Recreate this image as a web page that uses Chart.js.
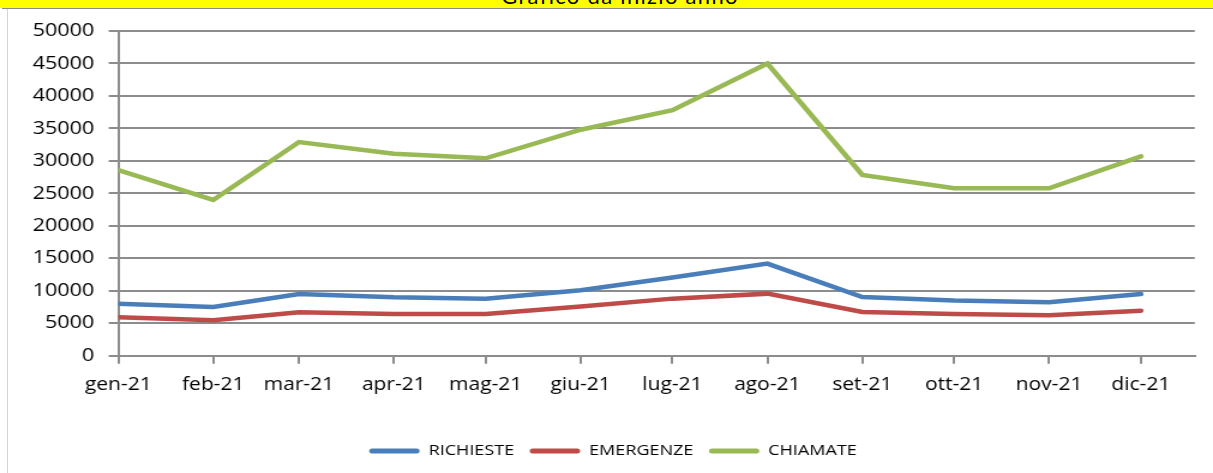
<!DOCTYPE html>
<html><head><meta charset="utf-8">
<script src="https://cdn.jsdelivr.net/npm/chart.js@4/dist/chart.umd.min.js"></script>
<style>
html,body{margin:0;padding:0;background:#fff;width:1213px;height:473px;overflow:hidden;}
#band{position:absolute;left:0;top:0;width:1213px;height:8px;background:#ffff00;overflow:hidden;}
#band span{position:absolute;left:0;width:1240px;text-align:center;top:-18px;font:22px Lato,sans-serif;letter-spacing:1.3px;color:#000;white-space:nowrap;line-height:normal;}
#topline{position:absolute;left:2px;top:8px;width:1211px;height:1px;background:#8a8a8a;}
#leftline{position:absolute;left:7px;top:9px;width:1px;height:464px;background:#d4d4d4;}
#wrap{position:absolute;left:0;top:0;width:1011px;height:473px;transform:scaleX(1.1998);transform-origin:0 0;}
</style></head>
<body>
<div id="band"><span>Grafico da inizio anno</span></div>
<div id="topline"></div>
<div id="leftline"></div>
<div id="wrap"><canvas id="c"></canvas></div>
<script>
const categories = ['gen-21','feb-21','mar-21','apr-21','mag-21','giu-21','lug-21','ago-21','set-21','ott-21','nov-21','dic-21'];
const richieste = [8000, 7500, 9500, 9000, 8800, 10100, 12050, 14200, 9050, 8500, 8250, 9500];
const emergenze = [5930, 5470, 6700, 6450, 6450, 7600, 8800, 9570, 6750, 6450, 6230, 6950];
const chiamate  = [28600, 24000, 32900, 31100, 30400, 34800, 37800, 45000, 27850, 25800, 25800, 30700];
const seriesNames = ['RICHIESTE', 'EMERGENZE', 'CHIAMATE'];
const seriesColors = ['#4a7ebb', '#be4b48', '#98b954'];

// day offset of each month start (date axis, as in the original)
const dayOffsets = categories.map((c, i) => (Date.UTC(2021, i, 1) - Date.UTC(2021, 0, 1)) / 86400000);
const toPoints = arr => arr.map((v, i) => ({x: dayOffsets[i], y: v}));

const legendShift = {
  id: 'legendShift',
  afterLayout(chart) { if (chart.legend) { chart.legend.left += 26; } }
};

function draw() {
  Chart.defaults.font.family = '"Open Sans", Lato, sans-serif';
  Chart.defaults.color = '#000';
  const gridColor = '#8c8c8c';
  const seriesData = [richieste, emergenze, chiamate];
  new Chart(document.getElementById('c'), {
    type: 'line',
    data: {
      datasets: seriesData.map((arr, i) => ({
        label: seriesNames[i],
        data: toPoints(arr),
        borderColor: seriesColors[i],
        backgroundColor: seriesColors[i],
        borderWidth: 4.5,
        pointRadius: 0,
        tension: 0,
        borderCapStyle: 'round',
        fill: false
      }))
    },
    options: {
      responsive: true,
      maintainAspectRatio: false,
      animation: false,
      layout: {padding: {left: 0, right: 15.2, top: 31, bottom: 4.5}},
      plugins: {
        tooltip: {enabled: false},
        title: {display: false},
        legend: {
          position: 'bottom',
          labels: {
            boxWidth: 42,
            boxHeight: 5,
            padding: 13,
            useBorderRadius: true,
            borderRadius: 2.5,
            font: {size: 15},
            color: '#000',
            generateLabels: chart => chart.data.datasets.map((ds, i) => ({
              text: ds.label,
              fillStyle: ds.borderColor,
              strokeStyle: ds.borderColor,
              lineWidth: 0,
              hidden: false,
              datasetIndex: i,
              borderRadius: 2.5
            }))
          }
        }
      },
      scales: {
        x: {
          type: 'linear',
          min: 0,
          max: 351.6,
          afterBuildTicks: s => { s.ticks = dayOffsets.map(v => ({value: v})); },
          afterFit: s => { s.height = 74.7; },
          ticks: {
            autoSkip: false,
            maxRotation: 0,
            minRotation: 0,
            padding: 11,
            font: {size: 17.5},
            color: '#000',
            callback: (v, i) => categories[i]
          },
          grid: {display: true, drawOnChartArea: false, drawTicks: true, tickLength: 8, color: gridColor, lineWidth: 2},
          border: {display: true, color: gridColor, width: 2}
        },
        y: {
          min: 0,
          max: 50000,
          afterFit: s => { s.width = 98.6; },
          ticks: {stepSize: 5000, padding: 12, font: {size: 18}, color: '#000', callback: v => String(v)},
          grid: {display: true, drawOnChartArea: true, drawTicks: true, tickLength: 8, color: gridColor, lineWidth: 2},
          border: {display: true, color: gridColor, width: 2}
        }
      }
    },
    plugins: [legendShift]
  });
}
if (document.fonts && document.fonts.load) {
  Promise.all([document.fonts.load('18px "Open Sans"'), document.fonts.load('22px Lato')]).then(draw, draw);
} else { draw(); }
</script>
</body></html>
